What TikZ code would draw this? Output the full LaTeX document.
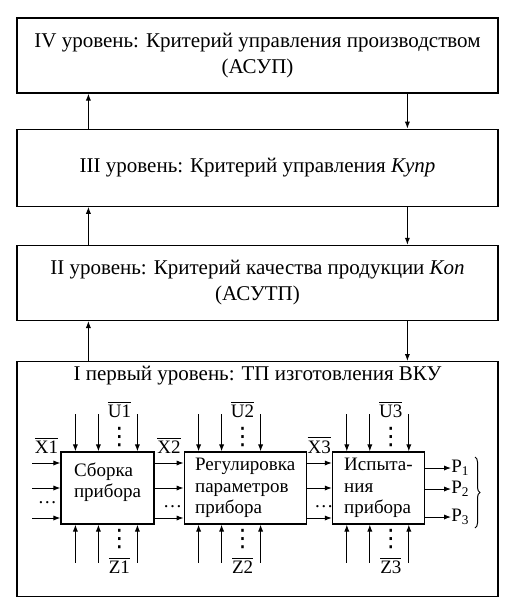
\documentclass[tikz,border=0pt]{standalone}
\usepackage{fontspec}
\setmainfont{Liberation Serif}
\newfontfamily\symfont{DejaVu Sans}
\usetikzlibrary{arrows.meta,positioning,calc,decorations.pathreplacing}

\begin{document}
\begin{tikzpicture}[x=0.5pt, y=-0.5pt,
  level/.style={rectangle, draw, line width=0.6pt, minimum width=240.5pt, inner sep=0pt,
              align=center, font=\fontsize{10.5}{13}\selectfont},
  stage/.style={rectangle, draw, line width=0.6pt, minimum height=36pt, inner sep=0pt,
              align=left, font=\fontsize{9.5}{10.75}\selectfont},
  sig/.style={-{Latex[length=3.5pt,width=2.6pt]}, line width=0.5pt},
  tag/.style={inner sep=0pt, font=\fontsize{9.5}{11}\selectfont},
  dts/.style={inner sep=0pt, anchor=base, font=\fontsize{9.5}{11}\selectfont},
  vdts/.style={inner sep=0pt, font=\symfont\fontsize{12}{12}\selectfont}]
\useasboundingbox (0,0) rectangle (515,611);
\node[level, minimum height=37.5pt] (l4) at (257.5,55.5)
  {IV уровень: Критерий управления производством\\ (АСУП)};
\node[level, minimum height=38.5pt, below=17.5pt of l4] (l3)
  {III уровень: Критерий управления \textit{Kупр}};
\node[level, minimum height=37.5pt, below=19pt of l3] (l2)
  {II уровень: Критерий качества продукции \textit{Kоп}\\ (АСУТП)};
\node[level, minimum height=117.5pt, below=20pt of l2] (l1) {};
\node[level, draw=none, minimum width=0pt, below=2.5pt of l1.north] (t1)
  {I первый уровень: ТП изготовления ВКУ};
\draw[sig] ([xshift=36pt]l1.north west) -- ([xshift=36pt]l2.south west);
\draw[sig] ([xshift=36pt]l2.north west) -- ([xshift=36pt]l3.south west);
\draw[sig] ([xshift=36pt]l3.north west) -- ([xshift=36pt]l4.south west);
\draw[sig] ([xshift=195.5pt]l4.south west) -- ([xshift=195.5pt]l3.north west);
\draw[sig] ([xshift=195.5pt]l3.south west) -- ([xshift=195.5pt]l2.north west);
\draw[sig] ([xshift=195.5pt]l2.south west) -- ([xshift=195.5pt]l1.north west);
\node[stage, minimum width=46.5pt] (b1) at (107.5,488) {Сборка\\ прибора\\[-3pt]};
\node[stage, minimum width=61pt, right=14.5pt of b1] (b2) {Регулировка\\ параметров\\ прибора};
\node[stage, minimum width=46pt, right=12.5pt of b2] (b3) {Испыта-\\ ния\\ прибора};
\foreach \b/\n in {b1/1,b2/2,b3/3} {
  \foreach \dx in {15,38,77} {
    \coordinate (\b-u\dx) at ($(\b.north west)+(\dx,-37)$);
    \coordinate (\b-z\dx) at ($(\b.south west)+(\dx,38)$);
    \draw[sig] (\b-u\dx) -- (\b-u\dx |- \b.north);
    \draw[sig] (\b-z\dx) -- (\b-z\dx |- \b.south);
  }
  \node[vdts] (\b-ud) at ($(\b.north west)+(59,-14)$) {⋮};
  \node[vdts] (\b-zd) at ($(\b.south west)+(59,14)$) {⋮};
  \node[tag] (u\n) at ($(\b.north west)+(59,-42)$) {$\overline{\mbox{U\n}}$};
  \node[tag] (z\n) at ($(\b.south west)+(59,41)$) {$\overline{\mbox{Z\n}}$};
}
\foreach \s in {12.5,0,-15} {
  \draw[sig] ([xshift=-14pt,yshift=\s pt]b1.west) -- ([yshift=\s pt]b1.west);
  \draw[sig] ([yshift=\s pt]b1.east) -- ([yshift=\s pt]b2.west);
  \draw[sig] ([yshift=\s pt]b2.east) -- ([yshift=\s pt]b3.west);
}
\node[tag] (x1) at ($(b1.west)+(-14,-43)$) {$\overline{\mbox{X1}}$};
\node[tag] (x2) at ($(b1.east)!0.5!(b2.west)+(0,-43)$) {$\overline{\mbox{X2}}$};
\node[tag] (x3) at ($(b2.east)!0.5!(b3.west)+(0,-43)$) {$\overline{\mbox{X3}}$};
\node[dts] (x1d) at ($(b1.west)+(-13,15)$) {\ldots};
\node[dts] (x2d) at ($(b2.west)+(-11,19)$) {\ldots};
\node[dts] (x3d) at ($(b3.west)+(-8,19)$) {\ldots};
\node[tag, anchor=west] (p1) at ($(b3.east)+(26,-20)$) {P\textsubscript{1}};
\node[tag, anchor=west] (p2) at ($(b3.east)+(26,1)$) {P\textsubscript{2}};
\node[tag, anchor=west] (p3) at ($(b3.east)+(26,29)$) {P\textsubscript{3}};
\foreach \p in {p1,p2,p3}
  \draw[sig] (b3.east |- \p.west) -- (\p.west);
\coordinate (br1) at (475,457);
\coordinate (br2) at (475,528);
\draw[decorate, decoration={brace, amplitude=2.5pt}, line width=0.5pt] (br1) -- (br2);
\end{tikzpicture}
\end{document}
